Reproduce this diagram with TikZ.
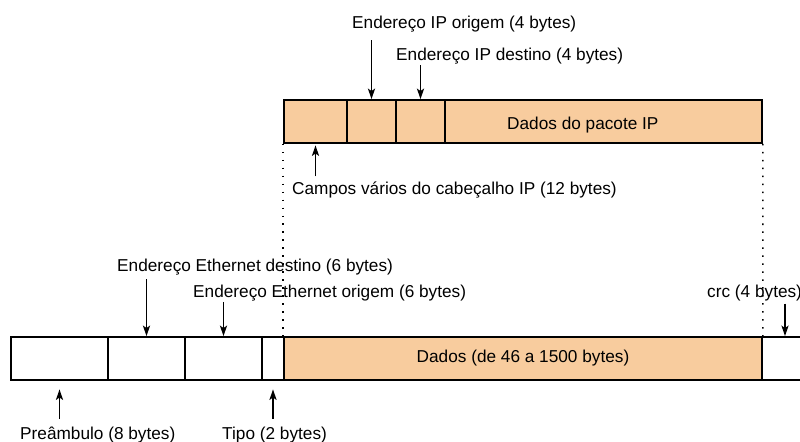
\documentclass[tikz,border=0pt]{standalone}
\usepackage{fontspec}
\setmainfont{Liberation Sans}
\usetikzlibrary{arrows.meta}
\definecolor{laranja}{RGB}{248,204,158}
\def\s{0.03}
\def\punkt#1#2{({(#1)*\s},{-(#2)*\s})}
\tikzset{
  campo/.style={draw,line width=1.4pt,minimum height={43*\s*1cm},inner sep=0pt},
  rotulo/.style={inner sep=0pt,anchor=base west},
  pfeil/.style={->,line width=1.2pt},
  pontos/.style={line width=1.3pt,dash pattern=on 1.3pt off 5.5pt},
}

\begin{document}
\begin{tikzpicture}[>={Stealth[length=9pt,width=6pt,inset=2pt]},font=\fontsize{14.7}{17}\selectfont]
\useasboundingbox \punkt{0}{0} rectangle \punkt{800}{441};
% datagrama IP
\node[campo,fill=laranja,minimum width={63*\s*1cm}] (campos) at \punkt{315.5}{121.5} {};
\node[campo,fill=laranja,minimum width={49*\s*1cm}] (ipsrc) at \punkt{371.5}{121.5} {};
\node[campo,fill=laranja,minimum width={49*\s*1cm}] (ipdst) at \punkt{420.5}{121.5} {};
\node[campo,fill=laranja,minimum width={317*\s*1cm}] (ipdados) at \punkt{603.5}{121.5} {};
\node[rotulo] (tdp) at \punkt{507}{129} {Dados do pacote IP};
% quadro Ethernet
\node[campo,fill=white,minimum width={97*\s*1cm}] (pre) at \punkt{59.5}{358.5} {};
\node[campo,fill=white,minimum width={77*\s*1cm}] (edst) at \punkt{146.5}{358.5} {};
\node[campo,fill=white,minimum width={77*\s*1cm}] (esrc) at \punkt{223.5}{358.5} {};
\node[campo,fill=white,minimum width={22*\s*1cm}] (tipo) at \punkt{273}{358.5} {};
\node[campo,fill=laranja,minimum width={478*\s*1cm}] (dados) at \punkt{523}{358.5} {Dados (de 46 a 1500 bytes)};
\node[campo,fill=white,minimum width={46*\s*1cm}] (crc) at \punkt{785}{358.5} {};
% rotulos
\node[rotulo] (lipsrc) at \punkt{352}{28.5} {Endereço IP origem (4 bytes)};
\node[rotulo] (lipdst) at \punkt{396}{60} {Endereço IP destino (4 bytes)};
\node[rotulo] (lcampos) at \punkt{292}{194} {Campos vários do cabeçalho IP (12 bytes)};
\node[rotulo] (leds) at \punkt{117}{271} {Endereço Ethernet destino (6 bytes)};
\node[rotulo] (leos) at \punkt{193}{297} {Endereço Ethernet origem (6 bytes)};
\node[rotulo] (lcrc) at \punkt{707}{297} {crc (4 bytes)};
\node[rotulo] (lpre) at \punkt{20}{439} {Preâmbulo (8 bytes)};
\node[rotulo] (ltipo) at \punkt{222}{439} {Tipo (2 bytes)};
% setas
\draw[pfeil,shorten <={8*\s*1cm}] (lipsrc.south -| ipsrc.north) -- (ipsrc.north);
\draw[pfeil,shorten <={1.5*\s*1cm}] (lipdst.south -| ipdst.north) -- (ipdst.north);
\draw[pfeil,shorten <={4.5*\s*1cm}] (leds.south -| edst.north) -- (edst.north);
\draw[pfeil,shorten <={1*\s*1cm}] (leos.south -| esrc.north) -- (esrc.north);
\draw[pfeil,shorten <={2.7*\s*1cm}] (lcrc.south -| crc.north) -- (crc.north);
\draw[pfeil,shorten <={4.6*\s*1cm},shorten >={1.5*\s*1cm}] (lcampos.north -| campos.south) -- (campos.south);
\draw[pfeil,shorten <={7*\s*1cm},shorten >={8.5*\s*1cm}] (lpre.north -| pre.south) -- (pre.south);
\draw[pfeil,shorten <={7.5*\s*1cm},shorten >={8.5*\s*1cm}] (ltipo.north -| tipo.south) -- (tipo.south);
% linhas pontilhadas
\draw[pontos] (campos.south west) -- (dados.north west);
\draw[pontos] (ipdados.south east) -- (dados.north east);
\end{tikzpicture}
\end{document}
